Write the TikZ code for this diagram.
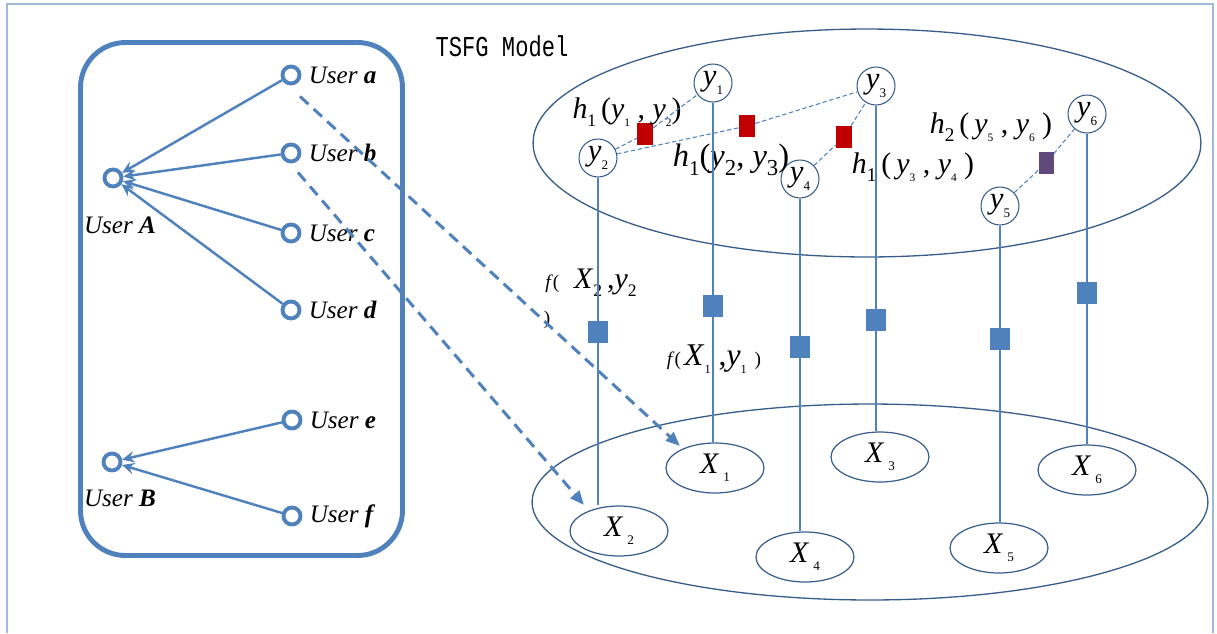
\documentclass[tikz,border=0pt]{standalone}
\usepackage{fontspec}
\setmainfont{Liberation Serif}
\newfontfamily\tsfgfont{Liberation Mono}
\usepackage{graphicx}
\usetikzlibrary{arrows.meta,positioning,shapes.geometric}
\definecolor{ublue}{RGB}{79,129,189}
\definecolor{dblue}{RGB}{56,93,138}
\definecolor{frameblue}{RGB}{160,185,218}
\definecolor{hred}{RGB}{192,0,0}
\definecolor{hpurple}{RGB}{96,74,123}
\newcommand{\lo}[2][6.5]{\raisebox{-0.6ex}{\fontsize{#1}{#1}\selectfont\upshape #2}}

\begin{document}
\begin{tikzpicture}[x=0.02cm,y=-0.02cm]
            \tikzset{user/.style = {shape=circle, draw=ublue, line width=2.2pt, minimum size=0.34cm, inner sep=0pt}}
            \tikzset{ulabel/.style = {inner sep=0pt, font=\fontsize{14.3}{15}\selectfont\itshape}}
            \tikzset{yvar/.style = {shape=circle, draw=dblue, line width=0.6pt, minimum size=0.76cm, inner sep=0pt, font=\fontsize{17.5}{18}\selectfont\itshape}}
            \tikzset{xvar/.style = {shape=ellipse, draw=dblue, line width=0.7pt, minimum width=1.96cm, minimum height=1.0cm, inner sep=0pt, font=\fontsize{17}{17}\selectfont\itshape}}
            \tikzset{fbox/.style = {shape=rectangle, fill=ublue, minimum width=0.4cm, minimum height=0.44cm, inner sep=0pt}}
            \tikzset{hbox/.style = {shape=rectangle, fill=hred, minimum width=0.32cm, minimum height=0.44cm, inner sep=0pt}}
            \tikzset{flabel/.style = {inner sep=0pt, font=\fontsize{17}{17}\selectfont}}
            \tikzset{pull/.style = {draw=ublue, line width=1.4pt, -{Stealth[length=7pt,width=6.5pt,inset=2.5pt]}}}
            \tikzset{link/.style = {draw=ublue, line width=1.7pt, dash pattern=on 6.5pt off 4pt, -{Triangle[length=8pt,width=6.5pt]}}}
            \tikzset{pair/.style = {draw=ublue, line width=0.6pt, dash pattern=on 2.5pt off 1.5pt}}
            \tikzset{stem/.style = {draw=ublue, line width=0.7pt}}
            \useasboundingbox (0,0) rectangle (1217,633);
            % frame and boxes
            \draw[frameblue, line width=1.2pt] (7,633) -- (7,4) -- (1213,4) -- (1213,633);
            \draw[ublue, line width=2.8pt, rounded corners=0.9cm] (80.5,42.5) rectangle (402.5,555.5);
            \draw[dblue, line width=0.75pt] (867,143) ellipse [x radius=6.68cm, y radius=2.28cm];
            \draw[dblue, line width=0.75pt] (870,502) ellipse [x radius=6.76cm, y radius=1.96cm];
            \node[inner sep=0pt, font=\tsfgfont\fontsize{12.6}{13}\selectfont] (title) at (502,46) {\scalebox{1}[1.3]{TSFG Model}};
            % users
            \node[user] (ua) at (291,75) {};
            \node[user] (ub) at (291,153) {};
            \node[user] (uc) at (291,233) {};
            \node[user] (ud) at (291,310) {};
            \node[user] (ue) at (292,420) {};
            \node[user] (uf) at (292,516) {};
            \node[user] (uA) at (113,178) {};
            \node[user] (uB) at (112,462) {};
            \node[ulabel, right=0.14cm of ua] (la) {User \textbf{a}};
            \node[ulabel, right=0.14cm of ub] (lb) {User \textbf{b}};
            \node[ulabel, right=0.14cm of uc] (lc) {User \textbf{c}};
            \node[ulabel, right=0.14cm of ud] (ld) {User \textbf{d}};
            \node[ulabel, right=0.14cm of ue] (le) {User \textbf{e}};
            \node[ulabel, right=0.14cm of uf] (lf) {User \textbf{f}};
            \node[ulabel, below=0.56cm of uA, xshift=0.14cm] (lA) {User \textbf{A}};
            \node[ulabel, below=0.34cm of uB, xshift=0.16cm] (lB) {User \textbf{B}};
            % vertices
            \node[yvar] (y1) at (713,83) {y\lo[7.5]{1}};
            \node[yvar] (y2) at (598,158) {y\lo[7.5]{2}};
            \node[yvar] (y3) at (876,86) {y\lo[7.5]{3}};
            \node[yvar] (y4) at (800,179) {y\lo[7.5]{4}};
            \node[yvar] (y5) at (1000,206) {y\lo[7.5]{5}};
            \node[yvar] (y6) at (1087,114) {y\lo[7.5]{6}};
            \node[xvar] (x1) at (715,468) {X\,\lo[7.5]{1}};
            \node[xvar] (x2) at (619,531) {X\,\lo[7.5]{2}};
            \node[xvar] (x3) at (880,457) {X\,\lo[7.5]{3}};
            \node[xvar] (x4) at (805,557) {X\,\lo[7.5]{4}};
            \node[xvar] (x5) at (999,548) {X\,\lo[7.5]{5}};
            \node[xvar] (x6) at (1087,470) {X\,\lo[7.5]{6}};
            % factors
            \node[fbox] (f1) at (713,306) {};
            \node[fbox] (f2) at (598,332) {};
            \node[fbox] (f3) at (876,320) {};
            \node[fbox] (f4) at (800,347) {};
            \node[fbox] (f5) at (1000,339) {};
            \node[fbox] (f6) at (1087,293) {};
            \node[hbox] (h12) at (645,134) {};
            \node[hbox] (h23) at (747,126) {};
            \node[hbox] (h34) at (844,137) {};
            \node[hbox, fill=hpurple, minimum width=0.3cm] (h56) at (1046,163) {};
            % labels
            \node[flabel] (lh12) at (627,112) {\textit{h}\lo[10]{1}\,(\textit{y}\lo{1} , \textit{y}\lo{2})};
            \node[flabel, font=\fontsize{18.5}{18}\selectfont] (lh23) at (731,160) {\textit{h}\lo[12]{1}(\textit{y}\lo[13]{2}, \textit{y}\lo[13]{3})};
            \node[flabel] (lh34) at (913,167) {\textit{h}\lo[11]{1}\,(\,\textit{y}\lo{3} , \textit{y}\lo{4} )};
            \node[flabel] (lh56) at (991,127) {\textit{h}\lo[11]{2}\,(\,\textit{y}\lo{5} , \textit{y}\lo{6}\ )};
            \node[flabel] (lf2) at (591,283) {{\fontsize{11}{11}\selectfont\textit{f}(}\ \ \textit{X}\lo[10]{2}\,,\textit{y}\lo[10]{2}};
            \node[flabel, font=\fontsize{11}{11}\selectfont] (lf2b) at (547,320) {)};
            \node[flabel, font=\fontsize{18}{18}\selectfont] (lf1) at (714,359) {{\fontsize{11}{11}\selectfont\textit{f}(\,}\textit{X}\lo[7]{1}\ ,\textit{y}\lo[7]{1}\ {\fontsize{11}{11}\selectfont)}};
            % edges
            \draw[pull] (ua) to (uA);
            \draw[pull] (ub) to (uA);
            \draw[pull] (uc) to (uA);
            \draw[pull] (ud) to (uA);
            \draw[pull] (ue) to (uB);
            \draw[pull] (uf) to (uB);
            \draw[stem] (y1) -- (f1) -- (y1 |- x1.north);
            \draw[stem] (y2) -- (f2) -- (y2 |- x2.north);
            \draw[stem] (y3) -- (f3) -- (y3 |- x3.north);
            \draw[stem] (y4) -- (f4) -- (y4 |- x4.north);
            \draw[stem] (y5) -- (f5) -- (y5 |- x5.north);
            \draw[stem] (y6) -- (f6) -- (y6 |- x6.north);
            \draw[pair] (y2) -- (h12) -- (y1);
            \draw[pair] (y2) -- (h23) -- (y3);
            \draw[pair] (y4) -- (h34) -- (y3);
            \draw[pair] (y5) -- (h56) -- (y6);
            \draw[link] ([shift={(9,11)}]ua.south) -- ([shift={(0,-4)}]x1.north west);
            \draw[link] ([shift={(7,9)}]ub.south) -- ([shift={(0,-8)}]x2.north west);
        \end{tikzpicture}
\end{document}
